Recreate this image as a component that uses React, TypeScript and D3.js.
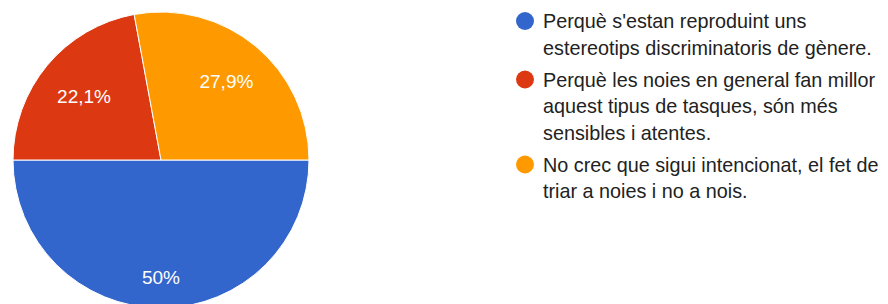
import React, { useEffect, useRef } from "react";
import * as d3 from "d3";

const categories: string[][] = [
  ["Perquè s'estan reproduint uns", "estereotips discriminatoris de gènere."],
  ["Perquè les noies en general fan millor", "aquest tipus de tasques, són més", "sensibles i atentes."],
  ["No crec que sigui intencionat, el fet de", "triar a noies i no a nois."],
];
const values: number[] = [50, 22.1, 27.9];
const colors: string[] = ["#3366cc", "#dc3912", "#ff9900"];

const W = 888;
const H = 304;

export default function App() {
  const ref = useRef<SVGSVGElement | null>(null);

  useEffect(() => {
    const svg = d3.select(ref.current);
    svg.selectAll("*").remove();

    const cx = 161;
    const cy = 160;
    const r = 148;
    const total = d3.sum(values);

    const pie = d3
      .pie<number>()
      .sort(null)
      .value((d) => d)
      .startAngle(Math.PI / 2)
      .endAngle(Math.PI / 2 + 2 * Math.PI);
    const arcs = pie(values);
    const arc = d3.arc<d3.PieArcDatum<number>>().innerRadius(0).outerRadius(r);

    const g = svg.append("g").attr("transform", `translate(${cx},${cy})`);
    g.selectAll("path")
      .data(arcs)
      .join("path")
      .attr("d", arc)
      .attr("fill", (_, i) => colors[i])
      .attr("stroke", "#ffffff")
      .attr("stroke-width", 1);

    const loc = d3.formatLocale({ decimal: ",", thousands: ".", grouping: [3], currency: ["", "€"] });
    const fmt = loc.format(".1~f");

    const fontSize = 19;
    const capH = fontSize * 0.716;
    const labelR = r * 0.85;

    arcs.forEach((a, i) => {
      const t = g
        .append("text")
        .attr("text-anchor", "middle")
        .attr("font-family", "Arial, 'Liberation Sans', sans-serif")
        .attr("font-size", fontSize)
        .attr("fill", "#ffffff")
        .text(fmt((a.value / total) * 100) + "%");
      const w = (t.node() as SVGTextElement).getComputedTextLength();
      const mid = (a.startAngle + a.endAngle) / 2;
      const ux = Math.sin(mid);
      const uy = -Math.cos(mid);
      const ax = (ux >= -1e-6 ? 1 : -1) * (w / 2);
      const by = (uy >= 0 ? 1 : -1) * (capH / 2);
      const p = ux * ax + uy * by;
      const d = -p + Math.sqrt(p * p - (ax * ax + by * by - labelR * labelR));
      const x = d * ux;
      const y = d * uy;
      t.attr("x", x).attr("y", y + capH / 2);
    });

    const lx = 525;
    const tx = 543;
    const lineH = 26.5;
    const itemGap = 32;
    let base = 28;
    const lg = svg.append("g");
    categories.forEach((lines, i) => {
      lg.append("circle")
        .attr("cx", lx)
        .attr("cy", base - 7)
        .attr("r", 9)
        .attr("fill", colors[i]);
      lines.forEach((ln, j) => {
        lg.append("text")
          .attr("x", tx)
          .attr("y", base + j * lineH)
          .attr("font-family", "Arial, 'Liberation Sans', sans-serif")
          .attr("font-size", 19.8)
          .attr("fill", "#222222")
          .text(ln);
      });
      base += (lines.length - 1) * lineH + itemGap;
    });
  }, []);

  return (
    <svg
      ref={ref}
      width={W}
      height={H}
      style={{ position: "absolute", left: 0, top: 0, background: "#ffffff" }}
    />
  );
}
